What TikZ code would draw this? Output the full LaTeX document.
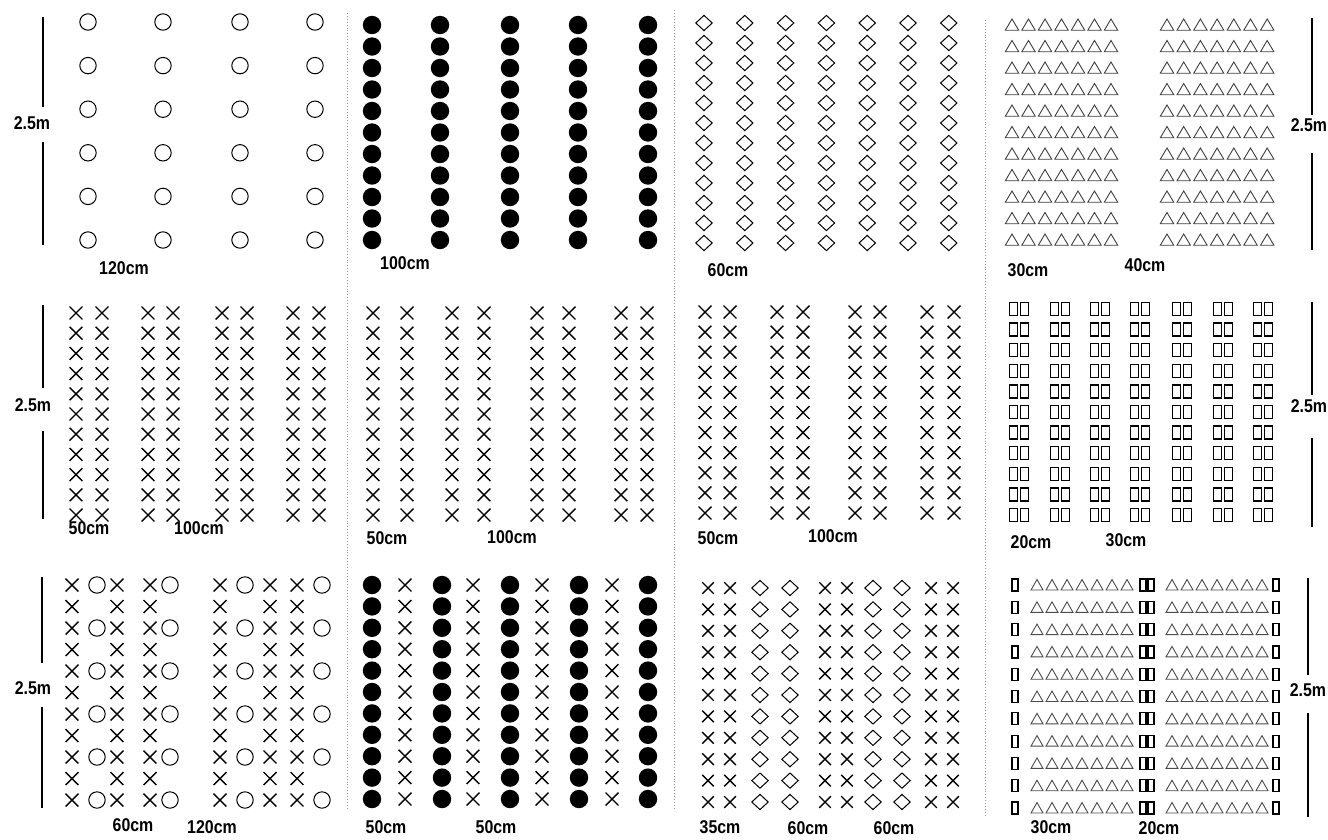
\documentclass[tikz,border=0pt]{standalone}
\usepackage{fontspec}
\newfontfamily\lblfont{Liberation Sans}[FakeStretch=0.86]
\definecolor{divblue}{RGB}{140,150,200}
\tikzset{
  lbl/.style={font=\lblfont\bfseries\fontsize{18.5}{21}\selectfont, inner sep=0pt},
  dimline/.style={line width=1.5pt},
  divider/.style={dotted, line width=0.9pt, draw=divblue},
  ocirc/.pic={\draw[line width=1pt] (0,0) circle (8.2pt);},
  fcirc/.pic={\fill (0,0) circle (9.2pt);},
  dmd/.pic={\draw[line width=1pt, line join=miter] (-8.2,0)--(0,-7.6)--(8.2,0)--(0,7.6)--cycle;},
  crs/.pic={\draw[line width=1.4pt] (-6.4,-6.4)--(6.4,6.4) (-6.4,6.4)--(6.4,-6.4);},
  scrs/.pic={\draw[line width=1.4pt] (-5.8,-5.8)--(5.8,5.8) (-5.8,5.8)--(5.8,-5.8);},
  tri/.pic={\draw[line width=0.9pt, black!75, line join=miter] (-6.7,5.2)--(6.7,5.2)--(0,-6)--cycle;},
  stri/.pic={\draw[line width=0.9pt, black!70, line join=miter] (-6,5)--(6,5)--(0,-5.5)--cycle;},
  drct/.pic={\draw[line width=1.3pt] (-9.5,-6.5) rectangle (-1.8,6.5) (1.8,-6.5) rectangle (9.5,6.5);},
  rct/.pic={\draw[line width=1.2pt] (-3,-6) rectangle (3,6);},
  drcts/.pic={\draw[line width=1.2pt] (-7,-6) rectangle (-1,6) (1,-6) rectangle (7,6);},
}
\begin{document}
\begin{tikzpicture}[x=1pt,y=-1pt]
\useasboundingbox (0,0) rectangle (1328,839);
\fill[white] (0,0) rectangle (1328,839);

% dividers
\coordinate (d1t) at (347,13);  \coordinate (d1b) at (347,810);
\coordinate (d2t) at (674,10);  \coordinate (d2b) at (674,808);
\coordinate (d3t) at (985,20);  \coordinate (d3b) at (985,815);
\draw[divider] (d1t) -- (d1b);
\draw[divider] (d2t) -- (d2b);
\draw[divider] (d3t) -- (d3b);

% ---------- Row 1 ----------
% Panel 1: open circles
\foreach \x in {88,163,240,315}
  \foreach \i in {0,...,5}
    \pic at ({\x},{22+43.6*\i}) {ocirc};
\node[lbl] (m1) at (32,123) {2.5m};
\coordinate (v1a) at (43,17); \coordinate (v1b) at (43,107);
\coordinate (v1c) at (43,142); \coordinate (v1d) at (43,245);
\draw[dimline] (v1a) -- (v1b) (v1c) -- (v1d);
\node[lbl] (c1) at (124,268) {120cm};

% Panel 2: filled circles
\foreach \x in {372,440,510,578,648}
  \foreach \i in {0,...,10}
    \pic at ({\x},{25+21.5*\i}) {fcirc};
\node[lbl] (c2) at (405,263) {100cm};

% Panel 3: diamonds
\foreach \j in {0,...,6}
  \foreach \i in {0,...,11}
    \pic at ({704+40.8*\j},{23+20*\i}) {dmd};
\node[lbl] (c3) at (728,270) {60cm};

% Panel 4: triangles
\foreach \j in {0,...,6}
  \foreach \i in {0,...,10}{
    \pic at ({1012+16.5*\j},{25+21.5*\i}) {tri};
    \pic at ({1167+16.7*\j},{25+21.5*\i}) {tri};
  }
\node[lbl] (m4) at (1309,125) {2.5m};
\coordinate (v4a) at (1312,18); \coordinate (v4b) at (1312,115);
\coordinate (v4c) at (1312,153); \coordinate (v4d) at (1312,250);
\draw[dimline] (v4a) -- (v4b) (v4c) -- (v4d);
\node[lbl] (c4a) at (1028,270) {30cm};
\node[lbl] (c4b) at (1145,265) {40cm};

% ---------- Row 2 ----------
% Panel 5
\foreach \x in {76,102,148,173,222,247,293,319}
  \foreach \i in {0,...,10}
    \pic at ({\x},{313+20.2*\i}) {crs};
\node[lbl] (m5) at (33,405) {2.5m};
\coordinate (v5a) at (43,305); \coordinate (v5b) at (43,388);
\coordinate (v5c) at (43,431); \coordinate (v5d) at (43,519);
\draw[dimline] (v5a) -- (v5b) (v5c) -- (v5d);
\node[lbl] (c5a) at (89,528) {50cm};
\node[lbl] (c5b) at (199,528) {100cm};

% Panel 6
\foreach \x in {373,407,452,484,537,569,621,647}
  \foreach \i in {0,...,10}
    \pic at ({\x},{313+20.2*\i}) {crs};
\node[lbl] (c6a) at (387,538) {50cm};
\node[lbl] (c6b) at (512,537) {100cm};

% Panel 7
\foreach \x in {705,730,777,803,855,880,927,954}
  \foreach \i in {0,...,10}
    \pic at ({\x},{312+20.1*\i}) {crs};
\node[lbl] (c7a) at (718,538) {50cm};
\node[lbl] (c7b) at (833,536) {100cm};

% Panel 8: double rectangles
\foreach \x in {1019,1060,1100,1140,1182,1223,1263}
  \foreach \i in {0,...,10}
    \pic at ({\x},{309+20.6*\i}) {drct};
\node[lbl] (m8) at (1309,406) {2.5m};
\coordinate (v8a) at (1312,302); \coordinate (v8b) at (1312,395);
\coordinate (v8c) at (1312,438); \coordinate (v8d) at (1312,527);
\draw[dimline] (v8a) -- (v8b) (v8c) -- (v8d);
\node[lbl] (c8a) at (1031,542) {20cm};
\node[lbl] (c8b) at (1126,540) {30cm};

% ---------- Row 3 ----------
% Panel 9
\foreach \x in {72,117,150,220,270,297}
  \foreach \i in {0,...,10}
    \pic at ({\x},{585+21.5*\i}) {crs};
\foreach \x in {97,170,245,322}
  \foreach \i in {0,2,...,10}
    \pic at ({\x},{585+21.5*\i}) {ocirc};
\node[lbl] (m9) at (33,688) {2.5m};
\coordinate (v9a) at (42,577); \coordinate (v9b) at (42,663);
\coordinate (v9c) at (42,707); \coordinate (v9d) at (42,808);
\draw[dimline] (v9a) -- (v9b) (v9c) -- (v9d);
\node[lbl] (c9a) at (133,825) {60cm};
\node[lbl] (c9b) at (212,827) {120cm};

% Panel 10
\foreach \x in {372,442,510,579,648}
  \foreach \i in {0,...,10}
    \pic at ({\x},{585+21.4*\i}) {fcirc};
\foreach \x in {405,473,542,612}
  \foreach \i in {0,...,10}
    \pic at ({\x},{585+21.4*\i}) {crs};
\node[lbl] (c10a) at (386,827) {50cm};
\node[lbl] (c10b) at (496,827) {50cm};

% Panel 11
\foreach \x in {708,730,825,847,931,953}
  \foreach \i in {0,...,10}
    \pic at ({\x},{588+21.4*\i}) {scrs};
\foreach \x in {760,790,873,902}
  \foreach \i in {0,...,10}
    \pic at ({\x},{588+21.4*\i}) {dmd};
\node[lbl] (c11a) at (720,827) {35cm};
\node[lbl] (c11b) at (808,828) {60cm};
\node[lbl] (c11c) at (894,828) {60cm};

% Panel 12
\foreach \i in {0,...,10}{
  \pic at (1015,{585+22.3*\i}) {rct};
  \pic at (1276,{585+22.3*\i}) {rct};
  \pic at (1147,{585+22.3*\i}) {drcts};
  \foreach \j in {0,...,6}{
    \pic at ({1037+15*\j},{585+22.3*\i}) {stri};
    \pic at ({1172+15*\j},{585+22.3*\i}) {stri};
  }
}
\node[lbl] (m12) at (1308,690) {2.5m};
\coordinate (v12a) at (1308,578); \coordinate (v12b) at (1308,675);
\coordinate (v12c) at (1308,713); \coordinate (v12d) at (1308,817);
\draw[dimline] (v12a) -- (v12b) (v12c) -- (v12d);
\node[lbl] (c12a) at (1051,827) {30cm};
\node[lbl] (c12b) at (1159,828) {20cm};
\end{tikzpicture}
\end{document}
